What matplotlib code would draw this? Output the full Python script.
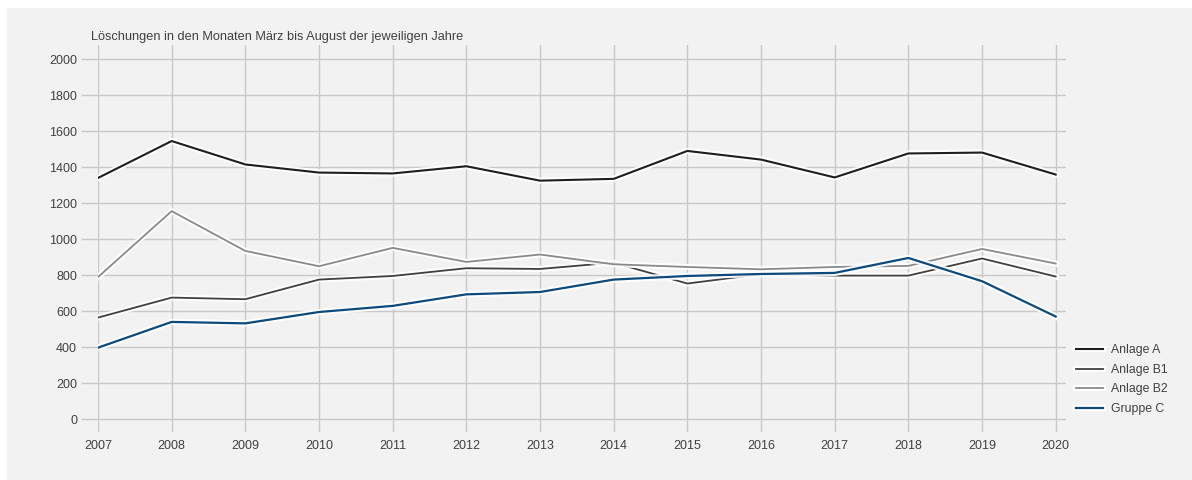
import matplotlib.pyplot as plt
import matplotlib.patheffects as pe
from matplotlib.patches import Rectangle

plt.rcParams['font.family'] = ['Liberation Sans', 'DejaVu Sans']

years = list(range(2007, 2021))
anlage_a = [1340, 1545, 1415, 1370, 1365, 1405, 1325, 1335, 1490, 1442, 1343, 1476, 1481, 1359]
anlage_b1 = [565, 676, 667, 776, 796, 839, 835, 870, 754, 806, 798, 798, 893, 793]
anlage_b2 = [790, 1156, 935, 850, 952, 874, 915, 861, 846, 833, 846, 852, 946, 865]
gruppe_c = [398, 541, 533, 596, 630, 694, 707, 776, 796, 807, 813, 896, 767, 571]
names = ['Anlage A', 'Anlage B1', 'Anlage B2', 'Gruppe C']
title = 'Löschungen in den Monaten März bis August der jeweiligen Jahre'

bg = '#f2f2f2'
grid_c = '#c8c8c8'
text_c = '#404040'

fig = plt.figure(figsize=(11.92, 4.8), dpi=100, facecolor='white')
fig.patches.append(Rectangle((7 / 1192, 0), 1, 1 - 8 / 480, transform=fig.transFigure,
                             facecolor=bg, edgecolor='none', zorder=-10))

ax = fig.add_axes([98 / 1192, 0.1, (1066 - 98) / 1192, 0.807])
ax.set_facecolor(bg)
for s in ax.spines.values():
    s.set_visible(False)

styles = [('#1e1e1e', 1.5), ('#404040', 1.3), ('#8a8a8a', 1.3), ('#0d4a7c', 1.6)]
series = [anlage_a, anlage_b1, anlage_b2, gruppe_c]
for vals, name, (c, lw) in zip(series, names, styles):
    ax.plot(years, vals, color=c, lw=lw, label=name, zorder=3,
            path_effects=[pe.Stroke(linewidth=lw + 3, foreground='white', alpha=0.9), pe.Normal()])

ax.set_xlim(2007, 2020.14)
ax.set_ylim(-70, 2080)
ax.set_xticks(years)
ax.set_yticks(range(0, 2001, 200))
ax.grid(True, color=grid_c, lw=1, zorder=0)
ax.tick_params(axis='y', length=12, color=grid_c, width=1, labelsize=9, labelcolor=text_c, pad=3)
ax.tick_params(axis='x', length=0, labelsize=9, labelcolor=text_c, pad=6)

fig.text(91 / 1192, 1 - 37 / 480, title, fontsize=9.2, color=text_c, va='center', ha='left')

leg = ax.legend(loc='upper left', bbox_to_anchor=(0.999, 0.255), frameon=False,
                fontsize=8.8, handlelength=2.2, handletextpad=0.7, labelspacing=0.62)
for t in leg.get_texts():
    t.set_color(text_c)

fig.savefig('out.png', dpi=100, facecolor=fig.get_facecolor())
